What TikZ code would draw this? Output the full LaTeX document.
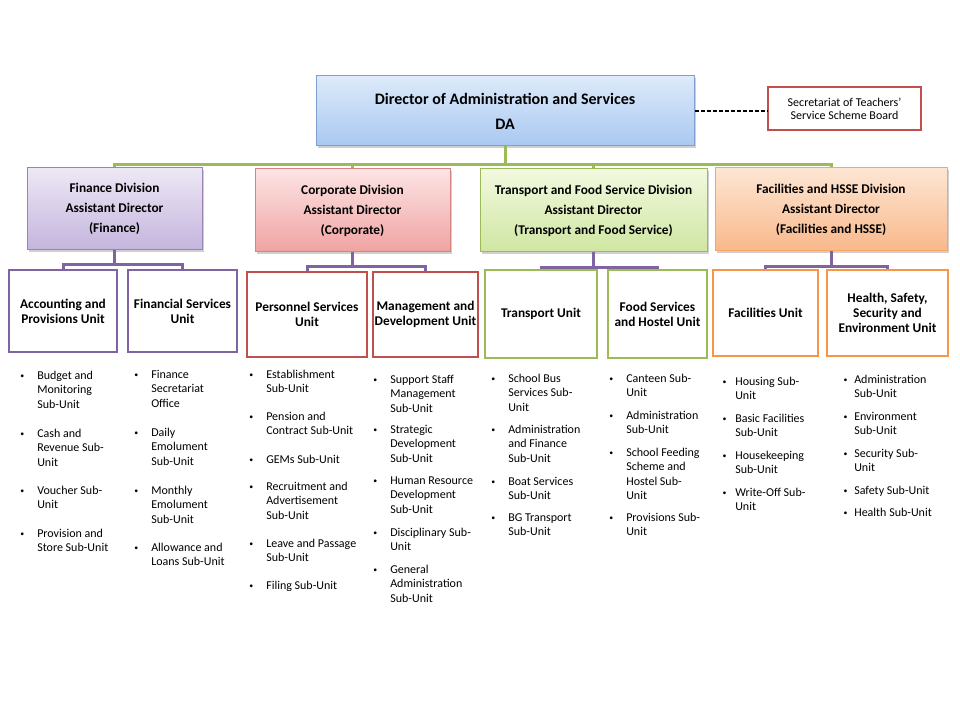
\documentclass[tikz,border=0pt]{standalone}
\usepackage{fontspec}
\setmainfont{Carlito}
\usetikzlibrary{shadows}
\definecolor{purp}{HTML}{8064A2}
\definecolor{redb}{HTML}{C0504D}
\definecolor{grnb}{HTML}{9BBB59}
\definecolor{orgb}{HTML}{F79646}
\definecolor{blub}{HTML}{7FA0CF}
\definecolor{datop}{HTML}{DDEBFA}
\definecolor{dabot}{HTML}{A9C8F1}
\definecolor{fintop}{HTML}{EDE8F5}
\definecolor{finbot}{HTML}{C4B5DD}
\definecolor{cortop}{HTML}{FCE4E4}
\definecolor{corbot}{HTML}{F0A3A2}
\definecolor{trtop}{HTML}{F2F9DF}
\definecolor{trbot}{HTML}{CFE6A2}
\definecolor{fatop}{HTML}{FDE6D4}
\definecolor{fabot}{HTML}{F9B88A}
\newcommand\bx[7]{\node[#2, minimum width={(#5-#3)*0.75pt}, minimum height={(#6-#4)*0.75pt}] (#1) at ({(#3+#5)/2},{(#4+#6)/2}) {#7};}
\newcommand\smallbul{\raisebox{0.9pt}{\scalebox{0.65}{\textbullet}}}
\newcommand\bitem[5][9.75pt]{\node[bul] (#2) at (#3,{#4-5.3}) {\llap{\smallbul\hspace{#1}}\rule{0pt}{7pt}#5};}
\begin{document}
\begin{tikzpicture}[x=0.75pt,y=-0.75pt,
  box/.style={draw, align=center, inner sep=1pt, line width=0.75pt},
  shad/.style={drop shadow={shadow xshift=1.5pt, shadow yshift=-1.5pt, fill=black!30, opacity=0.6}},
  dabox/.style={box, shad, draw=blub, top color=datop, bottom color=dabot, font=\fontsize{12}{18.75}\selectfont\bfseries},
  divbox/.style={box, shad, font=\fontsize{10}{15}\selectfont\bfseries},
  unitbox/.style={box, fill=white, line width=1.9pt, font=\fontsize{10}{11.25}\selectfont\bfseries},
  secbox/.style={box, fill=white, draw=redb, line width=1.5pt, font=\fontsize{9}{9.75}\selectfont},
  gline/.style={draw=grnb, line width=2.25pt},
  pline/.style={draw=purp, line width=2.25pt},
  bul/.style={anchor=north west, inner sep=0pt, align=left, font=\fontsize{9}{10.9}\selectfont},
]
\useasboundingbox (0,0) rectangle (960,720);
\fill[white] (0,0) rectangle (960,720);

% top
\bx{da}{dabox}{316}{76}{694}{146}{Director of Administration and Services\\DA}
\bx{sec}{secbox}{768}{87}{921}{130}{Secretariat of Teachers'\\Service Scheme Board}

% divisions
\bx{fin}{divbox, draw=purp!80, top color=fintop, bottom color=finbot}{27}{168}{202}{250}{Finance Division\\Assistant Director\\(Finance)}
\bx{cor}{divbox, draw=redb!70, top color=cortop, bottom color=corbot}{255}{169}{450}{252}{Corporate Division\\Assistant Director\\(Corporate)}
\bx{tra}{divbox, draw=grnb, top color=trtop, bottom color=trbot}{480}{169}{707}{252}{Transport and Food Service Division\\Assistant Director\\(Transport and Food Service)}
\bx{fac}{divbox, draw=orgb!85, top color=fatop, bottom color=fabot}{715}{168}{947}{251}{Facilities and HSSE Division\\Assistant Director\\(Facilities and HSSE)}

% units
\bx{acc}{unitbox, draw=purp}{9}{270}{117}{352}{Accounting and\\Provisions Unit}
\bx{fsu}{unitbox, draw=purp}{128}{270}{237}{352}{Financial Services\\Unit}
\bx{per}{unitbox, draw=redb}{247}{272}{367}{357}{Personnel Services\\Unit}
\bx{mgt}{unitbox, draw=redb}{373}{272}{478}{357}{Management and\\Development Unit}
\bx{tru}{unitbox, draw=grnb}{485}{270}{597}{358}{Transport Unit}
\bx{fod}{unitbox, draw=grnb}{608}{270}{707}{358}{Food Services\\and Hostel Unit}
\bx{fau}{unitbox, draw=orgb}{713}{270}{818}{356}{Facilities Unit}
\bx{hse}{unitbox, draw=orgb}{827}{270}{948}{356}{Health, Safety,\\Security and\\Environment Unit}

% connectors
\draw[dashed, line width=1.2pt, dash pattern=on 3pt off 1.5pt] (da.east) -- (da.east -| sec.west);
\foreach \d in {fin,cor,tra,fac}{
  \draw[gline] (da.south) -- ++(0,18) -| (\d.north);
}
\draw[pline] (fin.south) -- ++(0,14) -| (acc.north);
\draw[pline] (fin.south) -- ++(0,14) -| (fsu.north);
\draw[pline] (cor.south) -- ++(0,14) -| (per.north);
\draw[pline] (cor.south) -- ++(0,14) -| (mgt.north);
\draw[pline] (tra.south) -- ++(0,15) -| (tru.north);
\draw[pline] (tra.south) -- ++(0,15) -| (fod.north);
\draw[pline] (fac.south) -- ++(0,15) -| (fau.north);
\draw[pline] (fac.south) -- ++(0,15) -| (hse.north);

% bullet lists
\bitem{a1}{37}{375}{Budget and\\Monitoring\\Sub-Unit}
\bitem{a2}{37}{433}{Cash and\\Revenue Sub-\\Unit}
\bitem{a3}{37}{490}{Voucher Sub-\\Unit}
\bitem{a4}{37}{533}{Provision and\\Store Sub-Unit}

\bitem{b1}{151}{374}{Finance\\Secretariat\\Office}
\bitem{b2}{151}{432}{Daily\\Emolument\\Sub-Unit}
\bitem{b3}{151}{490}{Monthly\\Emolument\\Sub-Unit}
\bitem{b4}{151}{547}{Allowance and\\Loans Sub-Unit}

\bitem{c1}{266}{374}{Establishment\\Sub-Unit}
\bitem{c2}{266}{416}{Pension and\\Contract Sub-Unit}
\bitem{c3}{266}{459}{GEMs Sub-Unit}
\bitem{c4}{266}{486}{Recruitment and\\Advertisement\\Sub-Unit}
\bitem{c5}{266}{543}{Leave and Passage\\Sub-Unit}
\bitem{c6}{266}{585}{Filing Sub-Unit}

\bitem{d1}{390}{379}{Support Staff\\Management\\Sub-Unit}
\bitem{d2}{390}{429}{Strategic\\Development\\Sub-Unit}
\bitem{d3}{390}{480}{Human Resource\\Development\\Sub-Unit}
\bitem{d4}{390}{532}{Disciplinary Sub-\\Unit}
\bitem{d5}{390}{569}{General\\Administration\\Sub-Unit}

\bitem{e1}{508}{378}{School Bus\\Services Sub-\\Unit}
\bitem{e2}{508}{429}{Administration\\and Finance\\Sub-Unit}
\bitem{e3}{508}{481}{Boat Services\\Sub-Unit}
\bitem{e4}{508}{517}{BG Transport\\Sub-Unit}

\bitem{f1}{626}{378}{Canteen Sub-\\Unit}
\bitem{f2}{626}{415}{Administration\\Sub-Unit}
\bitem{f3}{626}{452}{School Feeding\\Scheme and\\Hostel Sub-\\Unit}
\bitem{f4}{626}{517}{Provisions Sub-\\Unit}

\bitem[6.5pt]{g1}{735}{381}{Housing Sub-\\Unit}
\bitem[6.5pt]{g2}{735}{418}{Basic Facilities\\Sub-Unit}
\bitem[6.5pt]{g3}{735}{455}{Housekeeping\\Sub-Unit}
\bitem[6.5pt]{g4}{735}{492}{Write-Off Sub-\\Unit}

\bitem[5pt]{h1}{854}{379}{Administration\\Sub-Unit}
\bitem[5pt]{h2}{854}{416}{Environment\\Sub-Unit}
\bitem[5pt]{h3}{854}{453}{Security Sub-\\Unit}
\bitem[5pt]{h4}{854}{490}{Safety Sub-Unit}
\bitem[5pt]{h5}{854}{512}{Health Sub-Unit}
\end{tikzpicture}
\end{document}
